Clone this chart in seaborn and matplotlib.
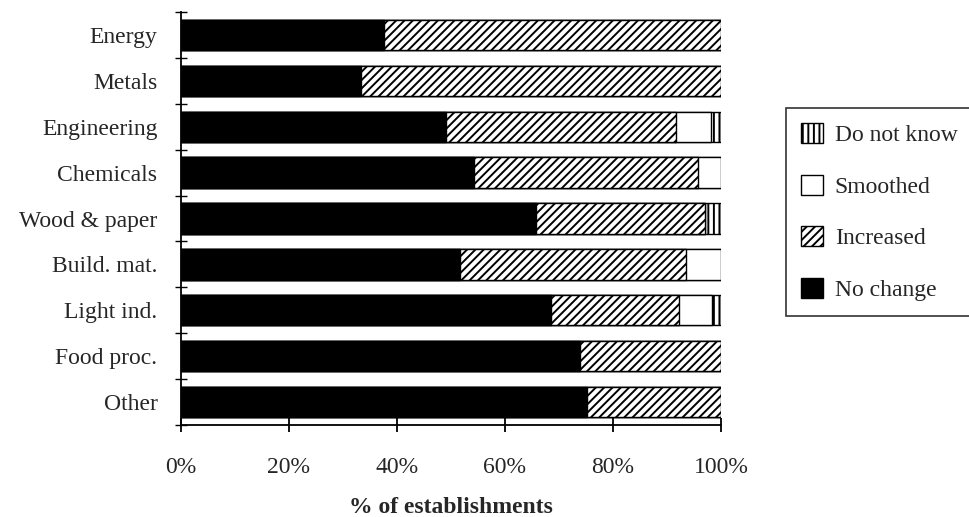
import seaborn as sns
import matplotlib.pyplot as plt
from matplotlib.patches import Patch
from matplotlib.ticker import FixedLocator, PercentFormatter
import numpy as np
import pandas as pd

categories = ["Energy", "Metals", "Engineering", "Chemicals", "Wood & paper",
              "Build. mat.", "Light ind.", "Food proc.", "Other"]
no_change = [37.6, 33.3, 49.1, 54.3, 65.7, 51.7, 68.6, 73.9, 75.2]
increased = [62.4, 66.7, 42.6, 41.4, 31.3, 41.9, 23.6, 26.1, 24.8]
smoothed = [0.0, 0.0, 6.4, 4.3, 0.0, 6.4, 6.2, 0.0, 0.0]
do_not_know = [0.0, 0.0, 1.9, 0.0, 3.0, 0.0, 1.6, 0.0, 0.0]

sns.set_style("white")
plt.rcParams["font.family"] = ["Liberation Serif", "DejaVu Serif"]
plt.rcParams["hatch.linewidth"] = 1.4
plt.rcParams["hatch.color"] = "black"

df = pd.DataFrame({"cat": categories, "No change": no_change, "Increased": increased,
                   "Smoothed": smoothed, "Do not know": do_not_know})
# cumulative right ends, drawn widest first so each layer covers the previous
df["c1"] = df["No change"]
df["c2"] = df["c1"] + df["Increased"]
df["c3"] = df["c2"] + df["Smoothed"]
df["c4"] = df["c3"] + df["Do not know"]

fig = plt.figure(figsize=(9.69, 5.17), dpi=100)
ax = fig.add_axes([181 / 969, 1 - 425 / 517, 540 / 969, 413 / 517])

layers = [("c4", "white", "|||"), ("c3", "white", None),
          ("c2", "white", "////"), ("c1", "black", None)]
for col, fc, hatch in layers:
    sns.barplot(data=df, x=col, y="cat", orient="h", color=fc, saturation=1,
                width=0.66, edgecolor="black", linewidth=1.0, hatch=hatch, ax=ax)

ax.set_xlim(0, 100)
ax.set_ylim(8.5, -0.5)
for s in ["top", "right"]:
    ax.spines[s].set_visible(False)
for s in ["left", "bottom"]:
    ax.spines[s].set_linewidth(1.3)
    ax.spines[s].set_color("black")

ax.set_xticks(np.arange(0, 101, 20))
ax.xaxis.set_major_formatter(PercentFormatter(decimals=0))
ax.tick_params(axis="x", direction="inout", length=10, width=1.3, pad=18,
               labelsize=17, bottom=True, color="black")
ax.tick_params(axis="y", which="major", length=0, pad=17, labelsize=17, left=True)
ax.yaxis.set_minor_locator(FixedLocator(np.arange(-0.5, 9.0, 1.0)))
ax.tick_params(axis="y", which="minor", direction="inout", length=9, width=1.0,
               left=True, color="black")

ax.set_ylabel("")
ax.set_xlabel("% of establishments", fontsize=17, fontweight="bold", labelpad=14)

handles = [Patch(facecolor="white", edgecolor="black", hatch="|||", label="Do not know"),
           Patch(facecolor="white", edgecolor="black", label="Smoothed"),
           Patch(facecolor="white", edgecolor="black", hatch="////", label="Increased"),
           Patch(facecolor="black", edgecolor="black", label="No change")]
leg = fig.legend(handles=handles, loc="upper left", bbox_to_anchor=(786 / 969, 1 - 108 / 517),
                 bbox_transform=fig.transFigure, borderaxespad=0, fontsize=17,
                 frameon=True, fancybox=False, edgecolor="black",
                 handlelength=0.93, handleheight=0.93, handletextpad=0.5,
                 labelspacing=1.2, borderpad=0.64)
leg.get_frame().set_linewidth(1.2)

fig.savefig("out.png", dpi=100)
